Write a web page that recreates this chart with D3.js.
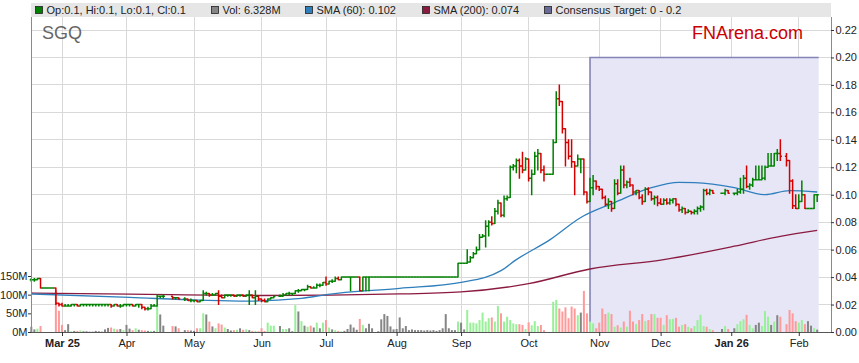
<!DOCTYPE html>
<html>
<head>
<meta charset="UTF-8" />
<style>
  body { margin: 0; background: #ffffff; }
  svg { display: block; font-family: Arial, "Liberation Sans", sans-serif; }
</style>
</head>
<body>
<svg id="chart" width="859" height="363"></svg>
<script src="https://d3js.org/d3.v7.min.js"></script>
<script>
// one entry per weekday from 2025-02-17, null = exchange holiday
const firstWeekday = "2025-02-17";

const high = [
  .039,.039,.039,.039,.032,.032,.032,.032,.032,.021, // Feb
  .021,.020,.020,.020,.020,.020,.020,.020,.020,.020,.020,.020,.020,.020,.020,.020,.020,.020,.020,.020,.020, // Mar
  .020,.020,.020,.020,.020,.020,.018,.018,.020,.020,.027,.026,.027,null,null,.026,.025,.025,null,.025,.024,.024, // Apr
  .023,.023,.023,.030,.029,.028,.028,.028,.030,.027,.027,.027,.027,.027,.027,.027,.027,.027,.030,.027,.030,.026, // May
  .024,.024,.024,.025,.026,null,.027,.028,.028,.029,.028,.030,.031,.031,.031,.034,.033,.033,.035,.035,.036, // Jun
  .040,.037,.038,.040,.040,.040,.040,.040,.040,.040,.040,.040,.040,.040,.040,.040,.040,.040,.040,.040,.040,.040,.040, // Jul
  .040,.040,.040,.040,.040,.040,.040,.040,.040,.040,.040,.040,.040,.040,.040,.040,.040,.040,.040,.040,.050, // Aug
  .050,.050,.060,.055,.058,.062,.071,.071,.081,.081,.084,.090,.096,.094,.099,.099,.121,.122,.126,.126,.131,.127, // Sep
  .126,.118,.131,.133,.130,.121,.115,.115,.140,.175,.180,.168,.148,.140,.140,.124,.129,.126,.126,.102,.112,.114,.110, // Oct
  .106,.104,.099,.097,.095,.111,.111,.121,.121,.110,.112,.107,.103,.101,.100,.105,.105,.102,.099,.099, // Nov
  .097,.097,.097,.097,.097,.097,.093,.091,.090,.089,.088,.089,.091,.092,.104,.104,.104,.103,null,null,.101,.104,.103, // Dec
  null,.101,.104,.112,.114,.121,.108,.112,.121,.121,.121,.121,.130,.130,.130,.133,.140,null,.130,.125,.111,.100, // Jan
  .100,.110,.100,.090,.090,.100,.100 // Feb
];
const low = [
  .037,.037,.038,.032,.032,.032,.032,.032,.020,.019,
  .019,.019,.019,.019,.019,.019,.019,.019,.019,.019,.019,.019,.019,.019,.019,.019,.018,.019,.019,.018,.019,
  .019,.019,.019,.019,.018,.017,.016,.016,.017,.019,.019,.025,.025,null,null,.024,.024,.024,null,.023,.023,.022,
  .022,.022,.022,.023,.027,.026,.027,.027,.020,.025,.025,.026,.026,.026,.026,.026,.026,.026,.020,.025,.020,.023,
  .022,.022,.022,.024,.025,null,.026,.026,.027,.027,.027,.028,.029,.030,.030,.031,.032,.032,.032,.033,.034,
  .034,.035,.036,.037,.038,.038,.040,.040,.030,.040,.040,.030,.030,.030,.030,.040,.040,.040,.040,.040,.040,.040,.040,
  .040,.040,.040,.040,.040,.040,.040,.040,.040,.040,.040,.040,.040,.040,.040,.040,.040,.040,.040,.040,.040,
  .050,.050,.050,.051,.054,.057,.060,.069,.062,.070,.078,.079,.086,.084,.084,.096,.098,.118,.116,.112,.116,.118,
  .110,.100,.115,.118,.116,.110,.115,.115,.115,.138,.165,.145,.121,.126,.120,.100,.121,.116,.100,.094,.095,.100,.104,
  .103,.097,.092,.090,.088,.090,.100,.101,.105,.105,.106,.100,.100,.097,.093,.095,.100,.096,.093,.092,
  .093,.093,.093,.093,.094,.092,.088,.087,.086,.087,.086,.086,.086,.088,.089,.100,.100,.101,null,null,.101,.100,.101,
  null,.100,.100,.101,.101,.105,.104,.106,.111,.111,.111,.111,.120,.121,.121,.125,.125,null,.121,.101,.090,.090,
  .090,.095,.090,.090,.090,.090,.095
];
const close = [
  .038,.038,.039,.032,.032,.032,.032,.032,.021,.020,
  .019,.019,.019,.020,.020,.019,.020,.020,.020,.020,.020,.020,.020,.020,.020,.020,.019,.020,.019,.019,.020,
  .020,.020,.019,.020,.020,.018,.017,.017,.019,.019,.026,.026,.026,null,null,.025,.025,.024,null,.024,.023,.023,
  .023,.022,.023,.028,.028,.027,.027,.028,.026,.025,.027,.027,.027,.026,.027,.027,.026,.027,.027,.025,.026,.024,
  .023,.022,.024,.025,.026,null,.026,.027,.028,.028,.028,.030,.030,.031,.031,.033,.032,.032,.034,.034,.036,
  .035,.037,.037,.039,.038,.040,.040,.040,.040,.040,.040,.030,.040,.040,.040,.040,.040,.040,.040,.040,.040,.040,.040,
  .040,.040,.040,.040,.040,.040,.040,.040,.040,.040,.040,.040,.040,.040,.040,.040,.040,.040,.040,.040,.050,
  .050,.050,.051,.054,.057,.060,.069,.070,.077,.080,.079,.088,.094,.085,.097,.098,.120,.121,.125,.121,.118,.126,
  .112,.115,.128,.130,.118,.115,.115,.115,.138,.170,.168,.148,.138,.128,.124,.121,.126,.126,.102,.095,.105,.110,.106,
  .104,.098,.093,.095,.090,.108,.101,.118,.107,.109,.107,.102,.103,.098,.095,.104,.102,.097,.098,.094,
  .093,.096,.094,.096,.097,.093,.089,.090,.087,.088,.087,.088,.090,.091,.103,.101,.103,.101,null,null,.101,.103,.101,
  null,.101,.102,.104,.112,.106,.107,.111,.111,.111,.112,.120,.121,.121,.130,.130,.128,null,.125,.110,.092,.090,
  .095,.100,.090,.090,.090,.100,.100
];
// volume in millions of shares
const volume = [
  14,7,9,16,0,0,0,0,112,57,
  19,5,21,2,3,3,4,2,2,1,1,3,2,1,7,11,12,9,7,8,5,
  19,9,5,10,6,5,4,3,3,3,70,47,17,null,null,16,15,10,null,5,5,4,
  3,10,10,50,47,28,15,10,23,20,12,8,4,5,6,10,6,7,5,3,3,2,
  10,3,25,17,17,null,16,8,8,10,2,72,55,29,17,14,17,12,25,10,25,
  32,12,7,5,3,2,3,8,20,12,6,35,19,10,22,10,0,2,34,48,43,15,7,
  8,39,10,16,5,7,5,5,5,4,5,4,5,3,5,10,48,10,5,5,28,
  25,7,59,25,25,23,32,52,28,37,39,28,70,50,28,41,32,23,21,21,19,8,
  26,18,29,16,19,5,0,0,81,86,63,55,66,37,68,63,45,52,110,50,28,23,10,
  25,63,48,52,48,14,18,12,28,14,57,28,21,32,48,29,32,48,48,38,
  38,19,45,34,35,38,14,19,21,14,10,16,32,46,16,14,8,5,null,null,8,16,8,
  null,10,21,29,34,46,19,10,19,25,16,56,41,19,28,45,41,null,21,59,50,29,
  25,32,21,29,17,10,6.328
];

const sma60Dates = ["2025-02-17","2025-04-02","2025-05-05","2025-05-26","2025-06-19","2025-07-01","2025-08-04","2025-09-01","2025-09-18","2025-09-25","2025-10-10","2025-10-24","2025-11-10","2025-11-26","2025-12-09","2025-12-16","2026-01-02","2026-01-16","2026-01-28","2026-02-10"];
const sma60Values = [.0277,.0252,.0232,.0225,.0245,.0272,.0318,.0362,.0447,.0527,.0673,.0834,.0943,.1052,.1090,.1088,.1052,.1001,.1030,.1020];
const sma200Dates = ["2025-02-17","2025-04-02","2025-06-02","2025-08-04","2025-09-01","2025-10-01","2025-10-29","2025-12-02","2026-01-02","2026-01-23","2026-02-10"];
const sma200Values = [.0284,.0276,.0266,.0277,.0292,.0352,.0459,.0527,.0625,.0697,.0740];

const monthTickDates = ["2025-03-03","2025-04-01","2025-05-01","2025-06-02","2025-07-01","2025-08-01","2025-09-01","2025-10-01","2025-11-03","2025-12-01","2026-01-01","2026-02-02"];
const monthLabels = ["Mar 25","Apr","May","Jun","Jul","Aug","Sep","Oct","Nov","Dec","Jan 26","Feb"];
const priceTicks = [0,0.02,0.04,0.06,0.08,0.10,0.12,0.14,0.16,0.18,0.20,0.22];
const volumeTicks = [0,50,100,150];
const targetLow = 0, targetHigh = 0.2;
const targetFrom = "2025-10-29";

const plotL = 31, plotR = 831, plotT = 17, plotB = 332;

const parseDate = d3.utcParse("%Y-%m-%d");
const days = [];
for (let d = parseDate(firstWeekday); days.length < close.length; d = d3.utcDay.offset(d, 1)) {
  const wd = d.getUTCDay();
  if (wd !== 0 && wd !== 6) days.push(d);
}
const indexOf = s => days.findIndex(d => +d === +parseDate(s));

const x = d3.scaleLinear().domain([-0.1, 260.5]).range([plotL, plotR]);
const yP = d3.scaleLinear().domain([0, 0.22]).range([plotB, 30]);
const yV = d3.scaleLinear().domain([0, 150]).range([plotB, 276]);

const svg = d3.select("#chart");

// grid
const grid = svg.append("g").attr("stroke", "#d9d9d9").attr("shape-rendering", "crispEdges");
priceTicks.filter(t => t > 0).forEach(t => {
  grid.append("line").attr("x1", plotL).attr("x2", plotR).attr("y1", yP(t)).attr("y2", yP(t));
});
monthTickDates.forEach(s => {
  const xx = x(indexOf(s));
  grid.append("line").attr("x1", xx).attr("x2", xx).attr("y1", plotT).attr("y2", plotB);
});

// consensus target box
const lastIdx = close.length - 1;
const bx0 = x(indexOf(targetFrom)), bx1 = x(lastIdx) + 1.5;
svg.append("rect")
  .attr("x", bx0).attr("y", yP(targetHigh))
  .attr("width", bx1 - bx0).attr("height", yP(targetLow) - yP(targetHigh))
  .attr("fill", "#e6e6f6");
svg.append("path")
  .attr("d", `M${bx0},${yP(targetLow)}V${yP(targetHigh)}H${bx1}`)
  .attr("fill", "none").attr("stroke", "#8484b6").attr("stroke-width", 1.6);

// watermark texts
svg.append("text").attr("x", 42).attr("y", 39).attr("font-size", 18).attr("fill", "#666").text("SGQ");
svg.append("text").attr("x", 692).attr("y", 38.5).attr("font-size", 18).attr("fill", "#cc0000").text("FNArena.com");

// bars data
const bars = [];
let prev = null;
close.forEach((c, i) => {
  if (c == null) return;
  const o = prev == null ? c : prev;
  bars.push({ i, o, h: Math.max(high[i], o, c), l: Math.min(low[i], o, c), c, v: volume[i], dir: Math.sign(c - o) });
  prev = c;
});

// volume
svg.append("g").selectAll("rect").data(bars).join("rect")
  .attr("x", d => x(d.i) - 1)
  .attr("width", 2)
  .attr("y", d => yV(d.v))
  .attr("height", d => yV(0) - yV(d.v))
  .attr("fill", d => d.dir > 0 ? "#98f098" : d.dir < 0 ? "#ff9a9a" : "#858585");

// moving averages
const smaLine = d3.line().x(d => x(indexOf(d[0]))).y(d => yP(d[1])).curve(d3.curveMonotoneX);
svg.append("path").attr("d", smaLine(d3.zip(sma200Dates, sma200Values)))
  .attr("fill", "none").attr("stroke", "#8b1a40").attr("stroke-width", 1.3);
svg.append("path").attr("d", smaLine(d3.zip(sma60Dates, sma60Values)))
  .attr("fill", "none").attr("stroke", "#2f7fbd").attr("stroke-width", 1.3);

// OHLC bars
svg.append("g").attr("fill", "none").attr("stroke-width", 1.5)
  .selectAll("path").data(bars).join("path")
  .attr("stroke", d => d.dir < 0 ? "#d40000" : "#008000")
  .attr("d", d => {
    const cx = x(d.i);
    return `M${cx},${yP(d.h) - 0.5}V${yP(d.l) + 0.5}M${cx - 1.6},${yP(d.o)}H${cx}M${cx},${yP(d.c)}H${cx + 1.6}`;
  });

// frame
const frame = svg.append("g").attr("shape-rendering", "crispEdges");
frame.append("line").attr("x1", plotL).attr("x2", plotL).attr("y1", plotT).attr("y2", plotB).attr("stroke", "#8a8a8a");
frame.append("line").attr("x1", plotR).attr("x2", plotR).attr("y1", plotT).attr("y2", plotB).attr("stroke", "#8a8a8a");
frame.append("line").attr("x1", plotL).attr("x2", plotR).attr("y1", plotB).attr("y2", plotB).attr("stroke", "#555");

// axes
const xAxis = svg.append("g").attr("transform", `translate(0,${plotB})`)
  .call(d3.axisBottom(x).tickValues(monthTickDates.map(indexOf))
    .tickFormat((d, i) => monthLabels[i]).tickSize(4).tickSizeOuter(0));
const rAxis = svg.append("g").attr("transform", `translate(${plotR},0)`)
  .call(d3.axisRight(yP).tickValues(priceTicks).tickFormat(d3.format(".2f")).tickSize(3).tickPadding(1.5));
const lAxis = svg.append("g").attr("transform", `translate(${plotL},0)`)
  .call(d3.axisLeft(yV).tickValues(volumeTicks).tickFormat(d => d + "M").tickSize(3).tickPadding(0.5));
[xAxis, rAxis, lAxis].forEach(a => {
  a.select(".domain").remove();
  a.selectAll(".tick line").attr("stroke", "#333");
  a.selectAll("text").attr("fill", "#222").attr("font-size", 11).attr("font-family", "Arial, 'Liberation Sans', sans-serif");
});
xAxis.selectAll("text").attr("font-weight", (d, i) => monthLabels[i].includes(" ") ? "bold" : "normal");

// legend strip
svg.append("rect").attr("x", plotL).attr("y", 3).attr("width", plotR - plotL).attr("height", 14).attr("fill", "#e6e6e6");
const last = bars[bars.length - 1];
const f1 = d3.format(".1f"), f3 = d3.format(".3f");
const legendItems = [
  { x: 35, color: "#008000", text: `Op:${f1(last.o)}, Hi:${f1(last.h)}, Lo:${f1(last.l)}, Cl:${f1(last.c)}` },
  { x: 211, color: "#858585", text: `Vol: ${last.v.toFixed(3)}M` },
  { x: 305, color: "#2f7fbd", text: `SMA (60): ${f3(sma60Values[sma60Values.length - 1])}` },
  { x: 422, color: "#8b1a40", text: `SMA (200): ${f3(sma200Values[sma200Values.length - 1])}` },
  { x: 544, color: "#6a6a96", text: `Consensus Target: ${targetLow} - ${targetHigh}` }
];
const lg = svg.append("g").selectAll("g").data(legendItems).join("g");
lg.append("rect").attr("x", d => d.x + 0.5).attr("y", 6.5).attr("width", 7).attr("height", 7)
  .attr("fill", d => d.color).attr("stroke", "#222").attr("stroke-width", 0.8);
lg.append("text").attr("x", d => d.x + 11.5).attr("y", 14).attr("font-size", 11).attr("fill", "#222").text(d => d.text);
</script>
</body>
</html>
